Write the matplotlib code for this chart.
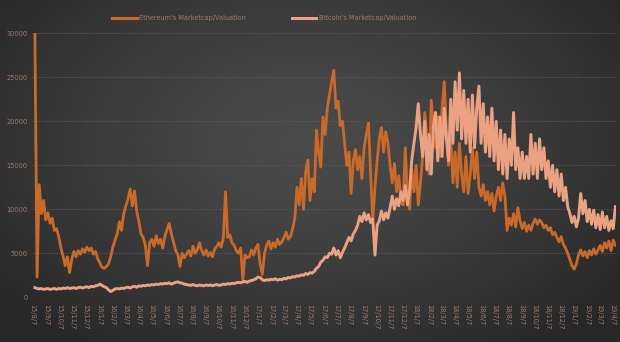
import numpy as np
import pandas as pd
import matplotlib
matplotlib.use("Agg")
import matplotlib.pyplot as plt
from matplotlib.colors import to_rgb
from matplotlib.lines import Line2D

# ---- data: market cap / valuation ratio, sampled every 5 days ----
dates = pd.date_range("2015-08-12", periods=269, freq="5D")

eth_ratio = [
    30000, 2300, 12800, 9500, 11000, 8800, 9600, 8400, 9000, 7600,
    7800, 6900, 5600, 4700, 3600, 4600, 2800, 4300, 5200, 4600,
    5300, 4900, 5500, 5100, 5700, 5300, 5600, 4900, 5200, 4400,
    3900, 3400, 3300, 3500, 3800, 4600, 5700, 6500, 7200, 8600,
    7600, 9500, 10400, 11200, 12300, 10400, 12100, 9800, 8600, 7200,
    6800, 5900, 3600, 6200, 6600, 5800, 7000, 6100, 6600, 5600,
    6900, 7700, 8400, 7200, 6300, 5300, 4900, 3500, 5000, 4500,
    4900, 5300, 4700, 5800, 5000, 5400, 6200, 5300, 4800, 5400,
    4700, 5100, 4600, 5500, 5800, 6200, 5700, 6700, 12000, 6800,
    7100, 6200, 5900, 5300, 5000, 5600, 2000, 4800, 4500, 4600,
    5400, 4800, 5600, 6000, 3800, 2600, 5000, 5900, 6400, 5500,
    6200, 5700, 6600, 6000, 6300, 6800, 7400, 6600, 6900, 7800,
    9000, 12500, 10500, 13500, 10000, 14200, 15600, 11000, 13500, 12000,
    19000, 16500, 14800, 20500, 18500, 21500, 23000, 24500, 25800, 21500,
    22300, 19500, 20000, 17500, 15000, 16500, 11800, 15500, 16800, 14500,
    16000, 13500, 17000, 18500, 19800, 14000, 8800, 12500, 15500, 18000,
    19300, 16500, 18800, 17500, 15000, 13000, 15200, 12000, 13800, 11000,
    10500, 17000, 11500, 10000, 14500, 12000, 15000, 10500, 13000, 16000,
    21000, 18000, 14000, 22400, 19000, 17000, 20500, 16000, 21500, 24500,
    19000, 15000, 18000, 13000, 16500, 12500, 17500, 14000, 12000, 16000,
    11800, 14000, 17000, 13500, 16500, 12500, 11500, 12800, 11000, 12000,
    10500, 11800, 9800, 11500, 12500, 11000, 13000, 11500, 7600, 9000,
    8200, 9500, 8000, 10200, 8700, 7800, 8500, 7500, 8200, 7600,
    8400, 8900, 8300, 8800, 8500, 7900, 8200, 7600, 7900, 7100,
    7400, 6800, 6300, 6900, 6000, 5600, 5000, 4300, 3600, 3200,
    3800, 4800, 5400, 4700, 5200, 4500, 5300, 4800, 5500, 4900,
    5400, 5900, 5200, 6200, 5600, 6400, 5300, 6500, 5900,
]

btc_ratio = [
    1100, 1000, 950, 1000, 900, 950, 1000, 900, 950, 1000,
    900, 1000, 950, 1050, 1000, 1100, 1000, 1050, 1100, 1000,
    1100, 1150, 1050, 1150, 1200, 1100, 1250, 1200, 1300, 1350,
    1500, 1350, 1200, 1100, 850, 650, 800, 950, 1000, 950,
    1050, 1000, 1100, 1150, 1050, 1200, 1250, 1150, 1300, 1250,
    1350, 1300, 1400, 1350, 1450, 1400, 1500, 1450, 1550, 1500,
    1600, 1550, 1650, 1500, 1600, 1700, 1750, 1650, 1600, 1500,
    1450, 1400, 1350, 1450, 1350, 1300, 1400, 1350, 1300, 1400,
    1350, 1400, 1300, 1400, 1450, 1350, 1400, 1500, 1450, 1550,
    1500, 1600, 1550, 1650, 1700, 1650, 1750, 1800, 1700, 1850,
    1900, 2000, 2100, 2300, 2250, 2000, 1900, 2000, 1950, 2050,
    2000, 2100, 1950, 2050, 2000, 2150, 2100, 2250, 2200, 2350,
    2300, 2450, 2400, 2550, 2500, 2700, 2600, 2800, 2750, 2950,
    3300, 3500, 4000, 4200, 4600, 4500, 5000, 4900, 5600, 4800,
    5300, 4500, 5100, 5600, 6200, 6800, 6400, 7200, 7600, 8200,
    9200, 8600, 9600, 8800, 9400, 8500, 8900, 4800, 8200, 8700,
    9800, 8800, 9600, 9000, 10200, 11500, 10000, 11200, 10400, 12000,
    11000, 12700, 10500, 12200, 15600, 17500, 19300, 22000, 18500, 16000,
    20000, 14500, 18500, 14000, 19500, 21000, 15500, 20500, 16000, 21500,
    18000, 15500, 22500, 17500, 24500, 19000, 25500, 18000, 23500, 17500,
    22500, 16500, 23000, 17000, 21500, 24000, 17500, 22000, 16500, 20500,
    16000, 21500, 15500, 20000, 14500, 19000, 14000, 18500, 13500, 18000,
    15000, 21000, 14500, 17000, 13500, 16500, 13500, 16000, 13500, 18500,
    14000, 17500, 13500, 18000, 14500, 17000, 13500, 15500, 12500, 15000,
    12000, 14500, 11500, 14000, 11000, 12500, 10300, 9500, 8500, 9200,
    8000, 9000, 11800, 9500, 11000, 8600, 10000, 8300, 9900, 7900,
    9400, 7700, 9700, 7900, 9200, 7600, 8700, 7800, 10300,
]

y_ticks = [0, 5000, 10000, 15000, 20000, 25000, 30000]
tick_dates = pd.date_range("2015-08-07", "2019-04-07", freq=pd.DateOffset(months=1))
tick_labels = [f"{d.year % 100}/{d.month}/{d.day}" for d in tick_dates]

series_names = ["Ethereum's Marketcap/Valuation", "Bitcoin's Marketcap/Valuation"]
eth_color = "#c96a2b"
btc_color = "#eaa282"
text_color = "#9c7b6b"

W, H = 620, 342
fig = plt.figure(figsize=(W / 100, H / 100), dpi=100)

# dark backdrop with a soft radial glow
bg = fig.add_axes([0, 0, 1, 1], zorder=-10)
yy, xx = np.mgrid[0:H, 0:W]
d = np.sqrt(((xx - 305) / 390.0) ** 2 + ((yy - 140) / 250.0) ** 2)
t = np.clip(d, 0, 1) ** 1.3
inner = np.array(to_rgb("#4b4b4b"))
outer = np.array(to_rgb("#282828"))
img = inner[None, None, :] * (1 - t[..., None]) + outer[None, None, :] * t[..., None]
bg.imshow(img, extent=[0, W, H, 0], aspect="auto", interpolation="bilinear")
bg.set_axis_off()

ax = fig.add_axes([32.3 / W, 44.7 / H, (615.8 - 32.3) / W, 264.0 / H])
ax.set_facecolor("none")

ax.plot(dates, eth_ratio, color=eth_color, lw=2.0, zorder=3)
ax.plot(dates, btc_ratio, color=btc_color, lw=2.1, zorder=4)

ax.set_xlim(pd.Timestamp("2015-08-06"), pd.Timestamp("2019-04-14"))
ax.set_ylim(0, 30000)
ax.set_yticks(y_ticks)
ax.set_yticklabels([str(v) for v in y_ticks])
ax.set_xticks(tick_dates)
ax.set_xticklabels(tick_labels, rotation=-90, va="top", ha="center")

for s in ax.spines.values():
    s.set_visible(False)
ax.tick_params(axis="both", length=0, colors=text_color, labelsize=4.8)
ax.tick_params(axis="y", pad=3.5)
ax.tick_params(axis="x", pad=5)

ax.yaxis.grid(True, color="#5c5c5c", lw=0.6, ls=(0, (1, 1)))
ax.set_axisbelow(True)
ax.axhline(0, color="#5a5a5a", lw=0.7, zorder=1)

handles = [Line2D([], [], color=eth_color, lw=2.2),
           Line2D([], [], color=btc_color, lw=2.2)]
fig.legend(handles, series_names, loc="center", bbox_to_anchor=(0.426, 0.947),
           ncol=2, frameon=False, fontsize=4.7, labelcolor=text_color,
           handlelength=3.8, handletextpad=0.4, columnspacing=7.0)

fig.savefig("out.png", dpi=100)
